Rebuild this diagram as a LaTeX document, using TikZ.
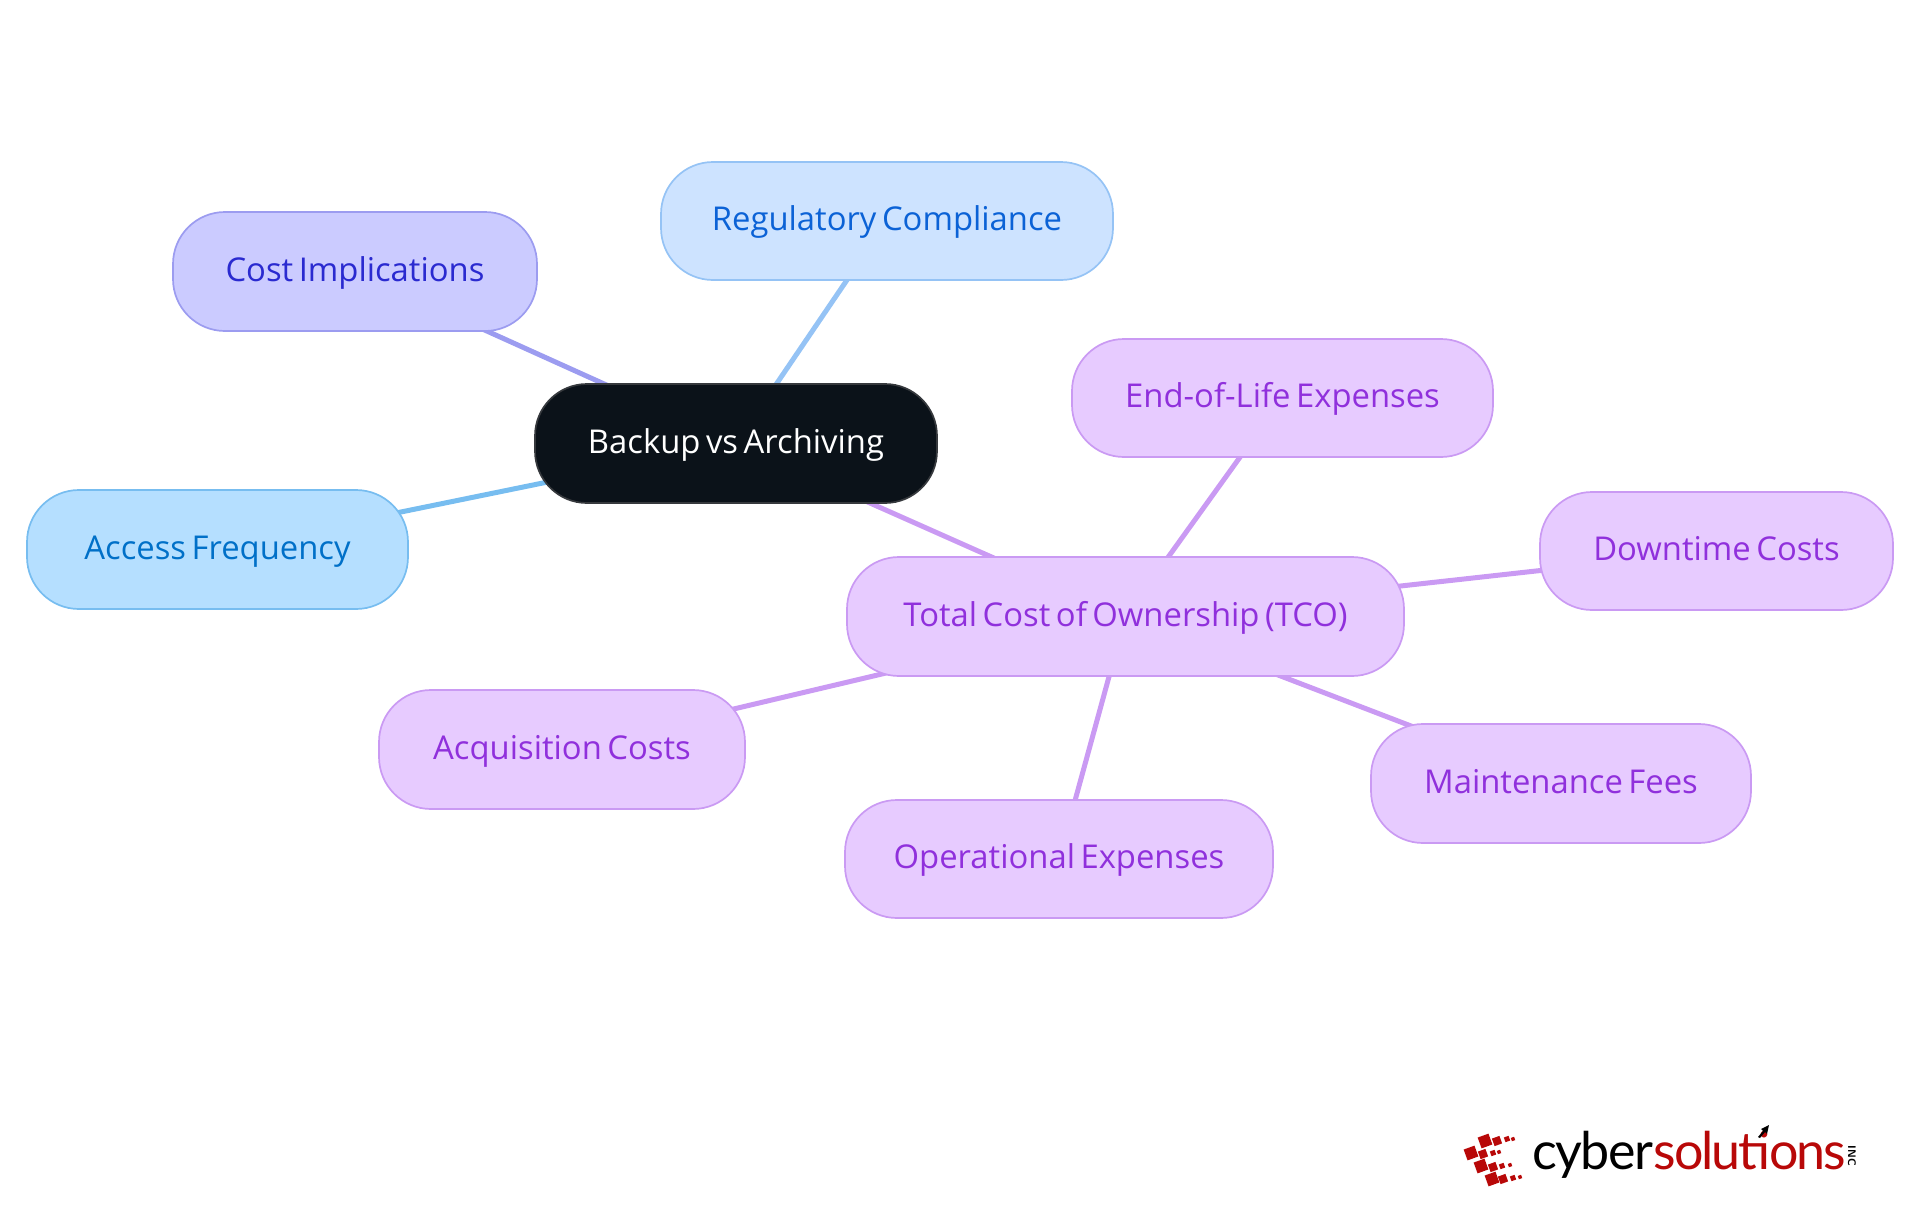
\documentclass[tikz,border=0pt]{standalone}
\usepackage{fontspec}
\setmainfont[WordSpace=0.65]{Open Sans}
\newfontfamily\logofont{Lato}
\usetikzlibrary{backgrounds}
\definecolor{rootfill}{HTML}{0B1219}
\definecolor{rootline}{HTML}{36393D}
\definecolor{pfill}{HTML}{E7CBFF}
\definecolor{pline}{HTML}{CA9AF3}
\definecolor{ptext}{HTML}{9030DC}
\definecolor{bfill}{HTML}{CDE3FF}
\definecolor{bline}{HTML}{95C3F5}
\definecolor{btext}{HTML}{0B62D6}
\definecolor{ifill}{HTML}{CBCBFF}
\definecolor{iline}{HTML}{9C9CF0}
\definecolor{itext}{HTML}{2A2AD0}
\definecolor{cfill}{HTML}{B5DFFF}
\definecolor{cline}{HTML}{77BDF0}
\definecolor{ctext}{HTML}{0070C8}
\definecolor{logored}{HTML}{B80808}
\tikzset{
  x=1pt,y=-1pt,
  mind/.style={draw,line width=1.7pt,rounded corners=52pt,inner sep=0pt,font=\fontsize{32.8}{38}\selectfont,align=center,anchor=center,text height=24pt,text depth=5pt},
  rootnode/.style={mind,fill=rootfill,draw=rootline,text=white},
  pnode/.style={mind,fill=pfill,draw=pline,text=ptext},
  bnode/.style={mind,fill=bfill,draw=bline,text=btext},
  inode/.style={mind,fill=ifill,draw=iline,text=itext},
  cnode/.style={mind,fill=cfill,draw=cline,text=ctext},
  link/.style={line width=5pt},
  logosq/.style={fill=logored,rotate=20,inner sep=0pt,minimum size=#1},
}
\newcommand{\boxnode}[7]{\node[#1,minimum width=#4pt-#3pt,minimum height=#6pt-#5pt] (#2) at ({(#3+#4)/2},{(#5+#6)/2}) {#7};}
\begin{document}
\begin{tikzpicture}
\useasboundingbox (0,0) rectangle (1920,1215);
\boxnode{rootnode}{root}{535}{937}{384}{503}{Backup vs Archiving}
\boxnode{bnode}{reg}{661}{1113}{162}{280}{Regulatory Compliance}
\boxnode{inode}{cost}{173}{537}{212}{331}{Cost Implications}
\boxnode{cnode}{acc}{27}{408}{490}{609}{Access Frequency}
\boxnode{pnode}{tco}{847}{1404}{557}{676}{Total Cost of Ownership (TCO)}
\boxnode{pnode}{eol}{1072}{1493}{339}{457}{End-of-Life Expenses}
\boxnode{pnode}{down}{1540}{1893}{492}{610}{Downtime Costs}
\boxnode{pnode}{maint}{1371}{1751}{724}{843}{Maintenance Fees}
\boxnode{pnode}{oper}{845}{1273}{800}{918}{Operational Expenses}
\boxnode{pnode}{acq}{379}{745}{690}{809}{Acquisition Costs}
\begin{pgfonlayer}{background}
\draw[link,draw=bline] (root.center) -- (reg.center);
\draw[link,draw=iline] (root.center) -- (cost.center);
\draw[link,draw=cline] (root.center) -- (acc.center);
\draw[link,draw=pline] (root.center) -- (tco.center);
\draw[link,draw=pline] (tco.center) -- (eol.center);
\draw[link,draw=pline] (tco.center) -- (down.center);
\draw[link,draw=pline] (tco.center) -- (maint.center);
\draw[link,draw=pline] (tco.center) -- (oper.center);
\draw[link,draw=pline] (tco.center) -- (acq.center);
\end{pgfonlayer}
% logo
\foreach \a/\b/\s in {1485/1141/11.5,1497/1141/8,1507/1139/5,1513/1139/3.5,
 1471/1153/11.5,1483/1154/8,1493/1153/5,1499/1152/3.5,
 1481/1166/11.5,1493/1167/8,1502/1166/5,1510/1165/3.5,
 1492/1179/11.5,1503/1179/8,1513/1178/5,1520/1177/3.5}
 \node[logosq=\s pt] (sq\a\b) at (\a,\b) {};
\node[anchor=base west,inner sep=0pt,text=black] (cy) at (1532,1169) {\logofont\fontsize{52}{52}\selectfont\addfontfeature{LetterSpace=-3}cyber};
\node[anchor=base west,inner sep=0pt,text=logored] (so) at (cy.base east) {\logofont\fontsize{52}{52}\selectfont\addfontfeature{LetterSpace=-3.8}solutions};
\node[rotate=-90,inner sep=0pt,text=black] (inc) at (1852,1156) {\sffamily\bfseries\fontsize{11}{11}\selectfont\addfontfeature{LetterSpace=12}INC};
\fill[black] (1769,1125) -- (1761,1129) -- (1763,1131) -- (1758,1137) -- (1760,1138) -- (1765,1132) -- (1767,1134) -- cycle;
\end{tikzpicture}
\end{document}
